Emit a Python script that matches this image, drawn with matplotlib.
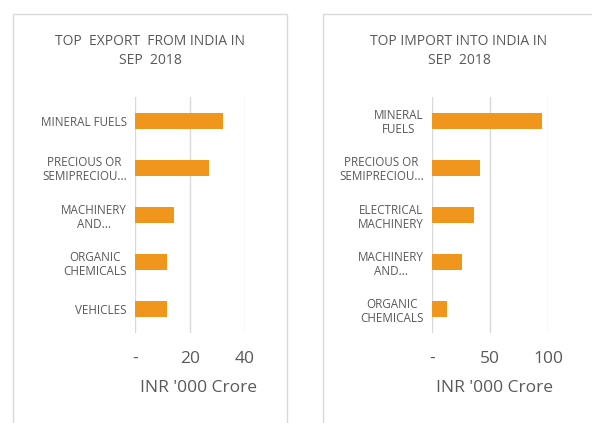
import matplotlib.pyplot as plt
from matplotlib.patches import Rectangle

plt.rcParams['font.family'] = ['Open Sans', 'DejaVu Sans']

# data
export_labels = ['MINERAL FUELS', 'PRECIOUS OR\nSEMIPRECIOU...', 'MACHINERY\nAND...',
                 'ORGANIC\nCHEMICALS', 'VEHICLES']
export_values = [32, 27, 14, 11.5, 11.5]
export_ticks = [0, 20, 40]

import_labels = ['MINERAL\nFUELS', 'PRECIOUS OR\nSEMIPRECIOU...', 'ELECTRICAL\nMACHINERY',
                 'MACHINERY\nAND...', 'ORGANIC\nCHEMICALS']
import_values = [95, 41, 36, 26, 13]
import_ticks = [0, 50, 100]

W, H = 592, 423
bar_col = '#F0961C'
grid_col = '#d9d9d9'
txt_col = '#595959'

fig = plt.figure(figsize=(W / 100, H / 100), dpi=100)

# panel frames
fig.patches.append(Rectangle((13 / W, -0.01), (287 - 13) / W, (H - 14) / H + 0.01,
                             transform=fig.transFigure, fill=False, ec=grid_col, lw=1))
fig.patches.append(Rectangle((323 / W, -0.01), (W - 323 + 5) / W, (H - 14) / H + 0.01,
                             transform=fig.transFigure, fill=False, ec=grid_col, lw=1))


def panel(x0, x1, labels, values, ticks, title, tx, lx):
    ax = fig.add_axes([x0 / W, (H - 333) / H, (x1 - x0) / W, 236 / H])
    pos = list(range(len(labels)))
    ax.barh(pos, values, height=0.34, color=bar_col, zorder=3)
    ax.set_ylim(len(labels) - 0.5, -0.5)
    ax.set_xlim(ticks[0], ticks[-1])
    ax.set_xticks(ticks)
    ax.set_xticklabels(['-'] + [str(t) for t in ticks[1:]], fontsize=12.5, color=txt_col)
    ax.set_yticks(pos)
    ax.set_yticklabels(labels, fontsize=8.4, color=txt_col, multialignment='center',
                       linespacing=1.1)
    ax.tick_params(length=0, pad=6)
    ax.tick_params(axis='x', pad=13)
    for t in ticks:
        ax.axvline(t, color=grid_col, lw=1, zorder=1)
    for s in ax.spines.values():
        s.set_visible(False)
    fig.text(lx / W, 1 - 388 / H, "INR '000 Crore", ha='center', va='center',
             fontsize=12.5, color=txt_col)
    fig.text(tx / W, 1 - 51 / H, title, ha='center', va='center', fontsize=10,
             color=txt_col, linespacing=1.4)
    return ax


panel(135, 245, export_labels, export_values, export_ticks,
      'TOP  EXPORT  FROM INDIA IN\nSEP  2018', 150, 198)
panel(432, 548, import_labels, import_values, import_ticks,
      'TOP IMPORT INTO INDIA IN\nSEP  2018', 459, 495)

fig.savefig('out.png', dpi=100)
